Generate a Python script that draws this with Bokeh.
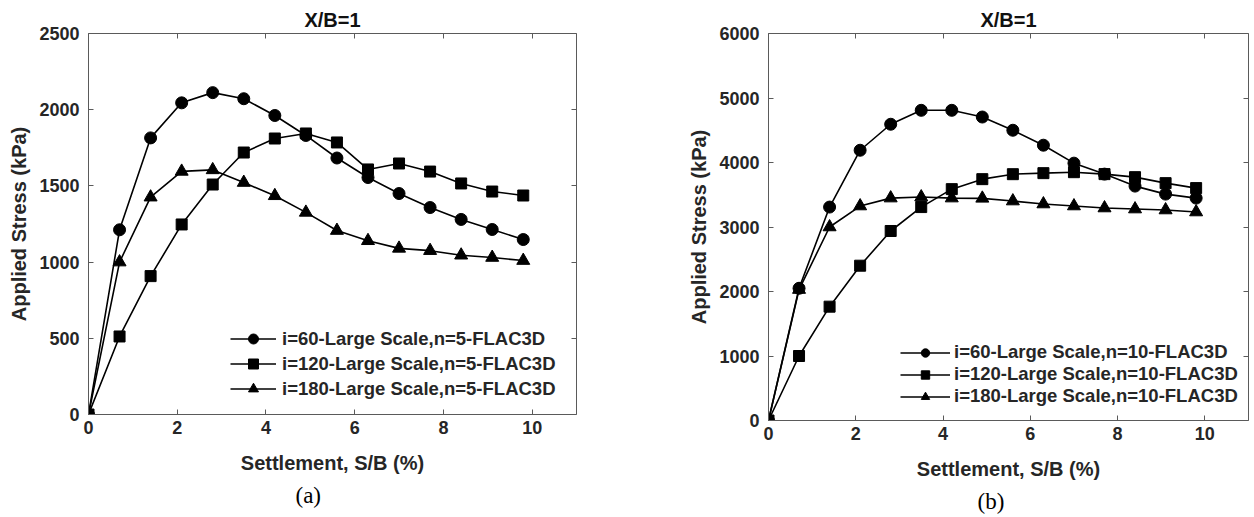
from bokeh.plotting import figure
from bokeh.models import Range1d, LinearAxis, FixedTicker, Legend, LegendItem, Title
from bokeh.layouts import row
from bokeh.embed import file_html
from bokeh.resources import INLINE

# ---------------- data ----------------
settlement = [0, 0.7, 1.4, 2.1, 2.8, 3.5, 4.2, 4.9, 5.6, 6.3, 7.0, 7.7, 8.4, 9.1, 9.8]

labels_a = ["i=60-Large Scale,n=5-FLAC3D",
            "i=120-Large Scale,n=5-FLAC3D",
            "i=180-Large Scale,n=5-FLAC3D"]
a_i60 = [0, 1212, 1815, 2045, 2112, 2072, 1962, 1831, 1683, 1555, 1450, 1358, 1280, 1214, 1148]
a_i120 = [0, 512, 908, 1247, 1509, 1719, 1811, 1844, 1785, 1608, 1647, 1594, 1516, 1463, 1437]
a_i180 = [0, 1000, 1426, 1595, 1605, 1522, 1435, 1326, 1207, 1140, 1090, 1075, 1045, 1030, 1010]

labels_b = ["i=60-Large Scale,n=10-FLAC3D",
            "i=120-Large Scale,n=10-FLAC3D",
            "i=180-Large Scale,n=10-FLAC3D"]
b_i60 = [0, 2050, 3309, 4190, 4593, 4809, 4809, 4705, 4500, 4268, 3990, 3820, 3634, 3510, 3448]
b_i120 = [0, 1000, 1765, 2400, 2938, 3309, 3587, 3742, 3819, 3835, 3850, 3820, 3773, 3680, 3603]
b_i180 = [0, 2030, 3000, 3325, 3448, 3464, 3448, 3444, 3402, 3356, 3325, 3294, 3278, 3263, 3232]

x_ticks = [0, 2, 4, 6, 8, 10]
y_ticks_a = [0, 500, 1000, 1500, 2000, 2500]
y_ticks_b = [0, 1000, 2000, 3000, 4000, 5000, 6000]
markers = ["circle", "square", "triangle"]
marker_sizes = [12, 11, 13]

FONT = "Liberation Sans"
TXT = "#262626"
AXC = "#5a5a5a"


def style_axis(ax, ticks, show_labels=True):
    ax.ticker = FixedTicker(ticks=ticks)
    ax.axis_line_color = AXC
    ax.axis_line_width = 1
    ax.major_tick_line_color = AXC
    ax.major_tick_in = 5
    ax.major_tick_out = 0
    ax.minor_tick_line_color = None
    ax.major_label_text_font = FONT
    ax.major_label_text_font_style = "bold"
    ax.axis_label_text_font = FONT
    ax.axis_label_text_font_style = "bold"
    ax.axis_label_text_font_size = "20px"
    ax.axis_label_text_color = TXT
    if show_labels:
        ax.major_label_text_color = TXT
        ax.major_label_text_font_size = "18px"
        ax.major_label_standoff = 8
    else:
        ax.major_label_text_color = None
        ax.major_label_text_font_size = "0px"
        ax.major_label_standoff = 0


def panel(width, height, mleft, mright, mtop, mbottom, ys, labels, ymax, yticks,
          tag, tag_offset, leg_loc, row_h, glyph_w, standoff):
    p = figure(width=width, height=height, output_backend="svg", toolbar_location=None,
               x_range=Range1d(0, 11), y_range=Range1d(0, ymax),
               min_border_left=mleft, min_border_right=mright,
               min_border_top=mtop, min_border_bottom=mbottom)
    p.outline_line_color = None
    p.xgrid.visible = False
    p.ygrid.visible = False
    p.title.text = "X/B=1"
    p.title.align = "center"
    p.title.text_font = FONT
    p.title.text_font_style = "bold"
    p.title.text_font_size = "20px"
    p.title.text_color = "#111111"
    p.title.standoff = 6

    style_axis(p.xaxis[0], x_ticks)
    style_axis(p.yaxis[0], yticks)
    p.xaxis[0].axis_label = "Settlement, S/B (%)"
    p.xaxis[0].major_label_standoff = 6
    p.xaxis[0].axis_label_standoff = 15
    p.yaxis[0].axis_label = "Applied Stress (kPa)"
    p.yaxis[0].major_label_standoff = 9
    p.yaxis[0].axis_label_standoff = 6

    top = LinearAxis()
    style_axis(top, x_ticks, show_labels=False)
    p.add_layout(top, "above")
    right = LinearAxis()
    style_axis(right, yticks, show_labels=False)
    p.add_layout(right, "right")

    items = []
    for y, lab, mk, ms in zip(ys, labels, markers, marker_sizes):
        lr = p.line(settlement, y, line_color="black", line_width=1.6)
        sr = p.scatter(settlement, y, marker=mk, size=ms, fill_color="black",
                       line_color="black")
        items.append(LegendItem(label=lab, renderers=[lr, sr]))

    leg = Legend(items=items, location=leg_loc)
    leg.border_line_color = None
    leg.background_fill_alpha = 0
    leg.padding = 0
    leg.margin = 0
    leg.spacing = 0
    leg.label_height = row_h
    leg.glyph_height = row_h
    leg.glyph_width = glyph_w
    leg.label_standoff = standoff
    leg.label_text_font = FONT
    leg.label_text_font_style = "bold"
    leg.label_text_font_size = "18.5px"
    leg.label_text_color = TXT
    p.add_layout(leg, "center")

    p.add_layout(Title(text=tag, align="left", offset=tag_offset,
                       text_font="Liberation Serif", text_font_size="23px",
                       text_font_style="normal", text_color="black", standoff=8),
                 "below")
    return p


pa = panel(640, 511, 88, 64, 33, 97, [a_i60, a_i120, a_i180], labels_a, 2500, y_ticks_a,
           "(a)", 207, (142, 13), 25, 46, 6)
pb = panel(614, 517, 128, 6, 33, 97, [b_i60, b_i120, b_i180], labels_b, 6000, y_ticks_b,
           "(b)", 209, (132, 13), 21, 50, 4)

layout = row(pa, pb)
open("out.html", "w").write(file_html(layout, INLINE))
